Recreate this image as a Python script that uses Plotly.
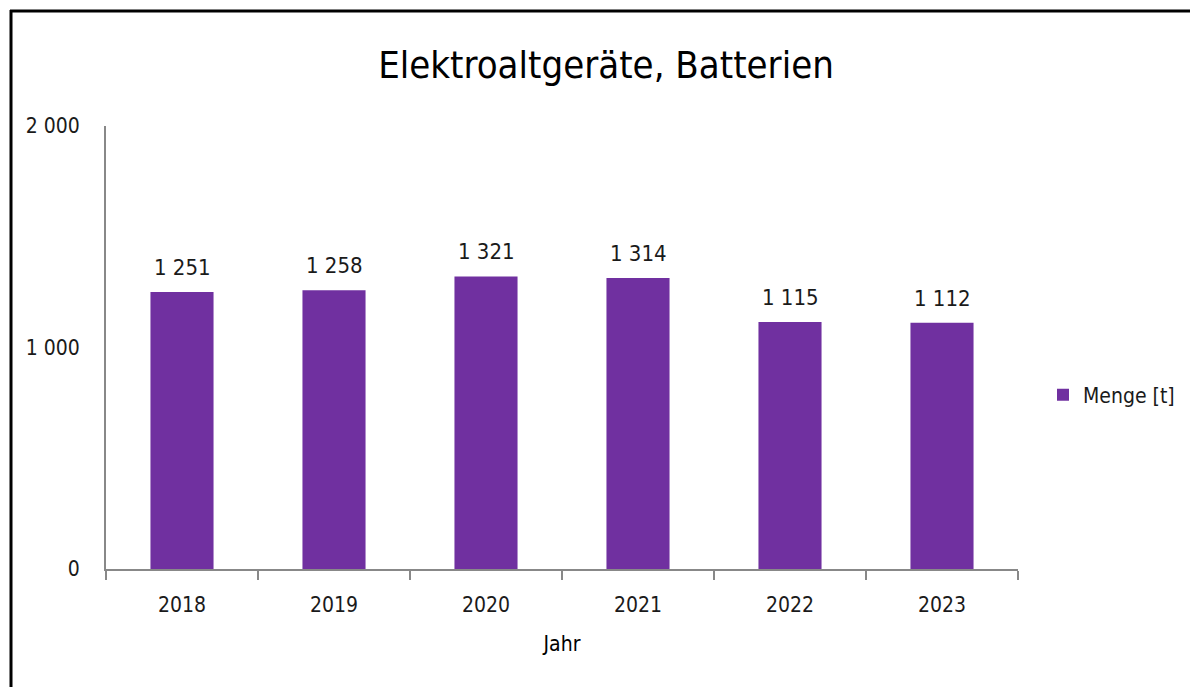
import plotly.graph_objects as go

years = ["2018", "2019", "2020", "2021", "2022", "2023"]
menge = [1251, 1258, 1321, 1314, 1115, 1112]
series_name = "Menge [t]"
title_text = "Elektroaltgeräte, Batterien"
x_title = "Jahr"
y_ticks = [0, 1000, 2000]

FONT = "Liberation Sans Narrow, DejaVu Sans Condensed, Arial Narrow, sans-serif"
W, H = 1190, 687
L, R, T, B = 106, 1018, 126, 569

fig = go.Figure()
fig.add_trace(go.Bar(
    x=years, y=menge, name=series_name,
    marker=dict(color="#7030A0", line=dict(width=0)),
    cliponaxis=False,
))

for i, v in enumerate(menge):
    fig.add_annotation(
        x=i, y=v, xref="x", yref="y",
        text=f"{v:,}".replace(",", " "),
        showarrow=False, yanchor="bottom", yshift=10,
        font=dict(family=FONT, size=22, color="#1a1a1a"),
    )

def px2x(p):
    return (p - L) / (R - L)

def py2y(p):
    return (B - p) / (B - T)

fig.update_layout(
    width=W, height=H,
    margin=dict(l=L, r=W - R, t=T, b=H - B, autoexpand=False),
    paper_bgcolor="white", plot_bgcolor="white",
    separators=", ",
    bargap=0.585,
    showlegend=True,
    font=dict(family=FONT, size=21, color="#1a1a1a"),
    title=dict(text=title_text, x=606 / W, xanchor="center", xref="container",
               y=1 - 65 / H, yanchor="middle", yref="container",
               font=dict(family=FONT, size=38, color="black")),
    legend=dict(x=1043 / W, xref="container", xanchor="left",
                y=1 - 395 / H, yref="container", yanchor="middle",
                font=dict(family=FONT, size=21, color="#1a1a1a"),
                bgcolor="rgba(0,0,0,0)", itemwidth=30),
    xaxis=dict(
        type="category",
        range=[-0.5, len(years) - 0.5],
        automargin=False,
        showline=True, linecolor="#888888", linewidth=2,
        ticks="outside", ticklen=9, tickcolor="#888888", tickwidth=2,
        tickson="boundaries",
        ticklabelstandoff=16,
        tickangle=0,
        tickfont=dict(family=FONT, size=21, color="#1a1a1a"),
        title=dict(text=x_title, font=dict(family=FONT, size=21, color="black"), standoff=20),
        showgrid=False, zeroline=False,
    ),
    yaxis=dict(
        automargin=False,
        range=[0, 2000], tickvals=y_ticks, tickformat=",",
        showline=True, linecolor="#888888", linewidth=2,
        ticks="", showgrid=False, zeroline=False,
        ticklabelstandoff=20,
        tickfont=dict(family=FONT, size=21, color="#1a1a1a"),
    ),
    shapes=[
        dict(type="line", xref="paper", yref="paper",
             x0=px2x(10), x1=px2x(1200), y0=py2y(11), y1=py2y(11),
             line=dict(color="black", width=3)),
        dict(type="line", xref="paper", yref="paper",
             x0=px2x(11), x1=px2x(11), y0=py2y(10), y1=py2y(700),
             line=dict(color="black", width=3)),
    ],
)

fig.write_html("out.html", config={"displayModeBar": False},
               post_script="document.body.style.margin='0';")
